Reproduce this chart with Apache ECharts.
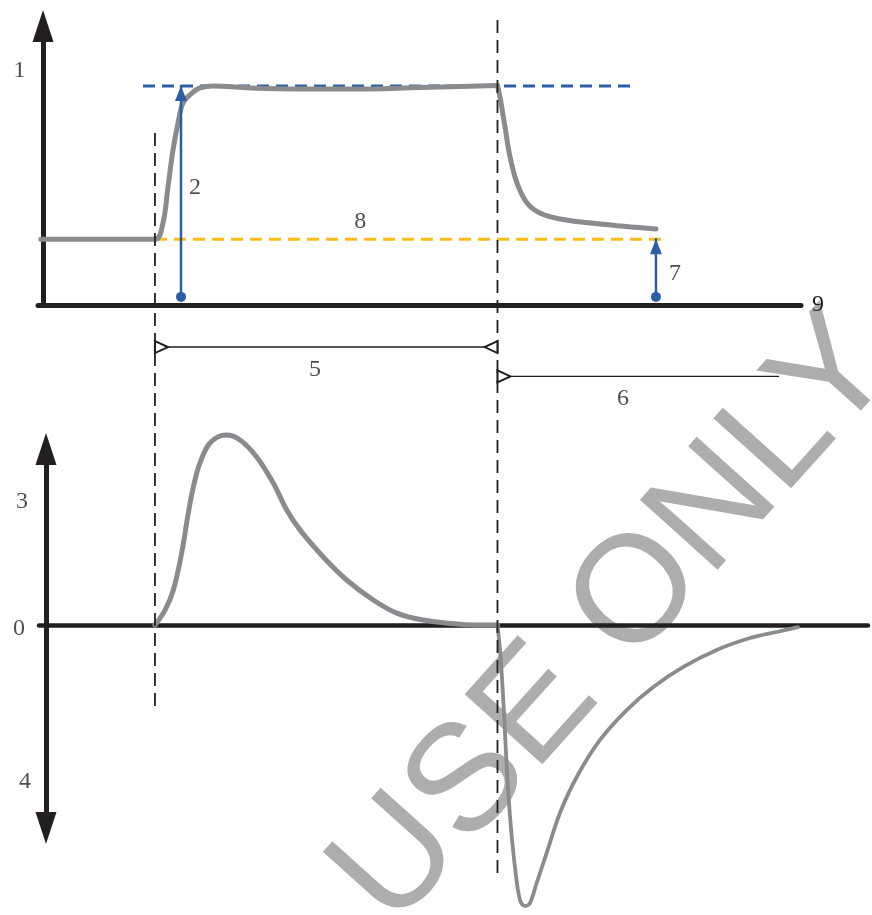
<!DOCTYPE html>
<html>
<head>
<meta charset="utf-8">
<script src="https://cdn.jsdelivr.net/npm/echarts@6/dist/echarts.min.js"></script>
<style>
  html, body { margin: 0; padding: 0; background: #fff; }
  #chart { width: 872px; height: 915px; }
</style>
</head>
<body>
<div id="chart"></div>
<script>
// ---- Signal level over time (upper panel), [time, level] ----
const levelRise = [
  [0, 0.3], [10, 0.3], [10.7, 0.374], [11.14, 0.539], [11.58, 0.708], [12.02, 0.831],
  [12.45, 0.922], [13.24, 0.968], [13.94, 0.991], [15.08, 1.0], [18.32, 0.991],
  [22.7, 0.986], [27.08, 0.986], [33.2, 0.993], [40, 1.002]
];
const levelDecay = [
  [40, 1.002], [40.22, 0.95], [40.66, 0.813], [41.1, 0.676], [41.71, 0.557],
  [42.59, 0.466], [43.72, 0.42], [45.47, 0.393], [48.98, 0.37], [53.88, 0.347]
];

// ---- Rate of change (lower panel), [time, rate] ----
const rateRise = [
  [10, 0], [10.88, 0.079], [11.61, 0.185], [12.34, 0.381], [12.92, 0.593], [13.36, 0.73],
  [13.94, 0.857], [14.82, 0.963], [16.22, 1.005], [17.45, 0.979], [18.91, 0.889],
  [20.36, 0.751], [21.54, 0.608], [22.7, 0.503], [24.74, 0.36], [26.79, 0.238],
  [29.12, 0.132], [31.17, 0.063], [33.5, 0.026], [36.43, 0.005], [37.86, 0], [40, 0]
];
const rateFall = [
  [40, 0], [40.22, -0.132], [40.51, -0.397], [40.81, -0.751], [41.1, -1.016],
  [41.53, -1.28], [41.97, -1.455], [42.41, -1.487], [42.85, -1.471], [43.43, -1.365],
  [44.31, -1.206], [45.47, -0.995], [46.94, -0.804], [48.98, -0.608], [51.32, -0.45],
  [53.65, -0.328], [56.28, -0.222], [59.2, -0.132], [62.12, -0.069], [64.44, -0.037],
  [66.32, -0.011]
];

// ---- Reference levels and event times ----
const plateauLevel = 1.0;
const baselineLevel = 0.3;
const onsetTime = 10;
const offsetTime = 40;
const recoveryEnd = 64.66;
const plateauRefSpan = [8.95, 52.05];
const baselineRefSpan = [10, 54.85];
const riseArrowTime = 12.28;
const driftArrowTime = 53.88;
const driftLevel = 0.3;

// ---- Key numbers ----
const upperKeys = ['1', '2', '8', '7', '5', '6'];
const lowerKeys = ['3', '0', '4'];
const timeAxisKey = '9';

// ---------------------------------------------------------------
const INK = '#231f20';
const GREY = '#8a8b8e';
const BLUE = '#2c5ea8';
const AMBER = '#fdbb14';
const DIGITS = { fontFamily: 'Liberation Serif', fontSize: 24, color: INK };

// shared horizontal scale for both panels
const PX_PER_T = 11.417, T0_PX = 40.8;
const tAt = px => (px - T0_PX) / PX_PER_T;

const upper = { left: 38, right: 71, top: 26, height: 279 };
const lower = { left: 39, right: 4, top: 449, height: 379 };

const chart = echarts.init(document.getElementById('chart'), null, { renderer: 'canvas' });

function lineSeries(name, grid, data, lineStyle, extra) {
  return Object.assign({
    name, type: 'line', xAxisIndex: grid, yAxisIndex: grid, data,
    showSymbol: false, clip: false, silent: true, animation: false,
    lineStyle: Object.assign({ cap: 'round', join: 'round' }, lineStyle),
    z: 3
  }, extra || {});
}

// arrow from the time axis up to a level: dot at the foot, solid head at the tip
function levelArrow(name, t, from, to) {
  return lineSeries(name, 0, [
    { value: [t, from], symbol: 'circle', symbolSize: 10 },
    { value: [t, to], symbol: 'triangle', symbolSize: [12, 15], symbolOffset: [0, '50%'] }
  ], { color: BLUE, width: 2.5 }, { showSymbol: true, itemStyle: { color: BLUE }, z: 6 });
}

// dimension line with open heads
function span(name, t0, t1, y, headAtEnd) {
  const head = (rot, dx) => ({ symbol: 'emptyTriangle', symbolRotate: rot, symbolOffset: [dx, 0] });
  return lineSeries(name, 0, [
    Object.assign({ value: [t0, y] }, head(-90, 6.5)),
    Object.assign({ value: [t1, y] }, headAtEnd ? head(90, -6.5) : { symbol: 'none' })
  ], { color: INK, width: 1.4, cap: 'butt' }, {
    showSymbol: true, symbolSize: [12, 13],
    itemStyle: { color: INK, borderColor: INK, borderWidth: 1.3 }, z: 6
  });
}

const upperAnchors = [[-1.87, 1.068], [13.5, 0.534], [27.97, 0.381], [55.55, 0.142], [24.02, -0.297], [50.99, -0.429]];
const lowerAnchors = [[-1.65, 0.651], [-1.91, -0.021], [-1.38, -0.831]];

function keySeries(grid, keys, anchors) {
  return {
    type: 'scatter', xAxisIndex: grid, yAxisIndex: grid, clip: false, silent: true,
    symbolSize: 0, animation: false, z: 7,
    data: keys.map((k, i) => ({ name: k, value: anchors[i] })),
    label: Object.assign({ show: true, position: 'inside', formatter: p => p.name }, DIGITS)
  };
}

const axisInk = w => ({ color: INK, width: w, cap: 'round' });

const option = {
  animation: false,
  backgroundColor: '#ffffff',
  grid: [
    Object.assign({ containLabel: false }, upper),
    Object.assign({ containLabel: false }, lower)
  ],
  xAxis: [
    {
      gridIndex: 0, type: 'value', min: tAt(upper.left), max: tAt(872 - upper.right),
      axisLine: { show: true, onZero: true, lineStyle: axisInk(5) },
      axisTick: { show: false }, axisLabel: { show: false }, splitLine: { show: false },
      name: timeAxisKey, nameLocation: 'end', nameGap: 11,
      nameTextStyle: Object.assign({ padding: [6, 0, 0, 0] }, DIGITS)
    },
    {
      gridIndex: 1, type: 'value', min: tAt(lower.left), max: tAt(872 - lower.right),
      axisLine: { show: true, onZero: true, lineStyle: axisInk(4.5) },
      axisTick: { show: false }, axisLabel: { show: false }, splitLine: { show: false }
    }
  ],
  yAxis: [
    {
      gridIndex: 0, type: 'value', min: 0, max: 1.274, offset: -5,
      axisLine: { show: true, onZero: false, lineStyle: axisInk(5),
        symbol: ['none', 'triangle'], symbolSize: [21, 32] },
      axisTick: { show: false }, axisLabel: { show: false }, splitLine: { show: false }
    },
    {
      gridIndex: 1, type: 'value', min: -1.074, max: 0.931, offset: -7,
      axisLine: { show: true, onZero: false, lineStyle: axisInk(5),
        symbol: ['triangle', 'triangle'], symbolSize: [21, 32] },
      axisTick: { show: false }, splitLine: { show: false }, axisLabel: { show: false }
    }
  ],
  graphic: [{
    type: 'text', x: 615, y: 621, rotation: 48 * Math.PI / 180, z: -10, silent: true,
    style: {
      text: 'USE ONLY', fontFamily: 'Liberation Sans', fontSize: 152,
      fill: '#adadad', align: 'center', verticalAlign: 'middle'
    }
  }],
  series: [
    // reference levels
    lineSeries('plateau ref', 0, [[plateauRefSpan[0], plateauLevel], [plateauRefSpan[1], plateauLevel]],
      { color: BLUE, width: 3, type: [12, 7], cap: 'butt' }, { z: 2 }),
    lineSeries('baseline ref', 0, [[baselineRefSpan[0], baselineLevel], [baselineRefSpan[1], baselineLevel]],
      { color: AMBER, width: 3, type: [12, 7], cap: 'butt' }, { z: 2 }),

    // signal level
    lineSeries('level rise', 0, levelRise, { color: GREY, width: 5 }, { smooth: 0.35 }),
    lineSeries('level decay', 0, levelDecay, { color: GREY, width: 5 }, { smooth: 0.35 }),

    // rate of change
    lineSeries('rate rise', 1, rateRise, { color: GREY, width: 5 }, { smooth: 0.35 }),
    lineSeries('rate fall', 1, rateFall, { color: GREY, width: 3.8 }, { smooth: 0.35 }),

    // event markers spanning both panels
    lineSeries('onset', 0, [[onsetTime, 0.785], [onsetTime, -1.858]],
      { color: INK, width: 1.8, type: [13, 7], cap: 'butt' }, { z: 5 }),
    lineSeries('offset', 0, [[offsetTime, 1.301], [offsetTime, -2.616]],
      { color: INK, width: 1.8, type: [13, 7], cap: 'butt' }, { z: 5 }),

    // arrows
    levelArrow('rise amplitude', riseArrowTime, 0.037, plateauLevel),
    levelArrow('drift', driftArrowTime, 0.037, driftLevel),

    // durations
    span('duration', onsetTime, offsetTime, -0.192, true),
    span('recovery', offsetTime, recoveryEnd, -0.326, false),

    // key numbers
    keySeries(0, upperKeys, upperAnchors),
    keySeries(1, lowerKeys, lowerAnchors)
  ]
};

chart.setOption(option);
</script>
</body>
</html>
